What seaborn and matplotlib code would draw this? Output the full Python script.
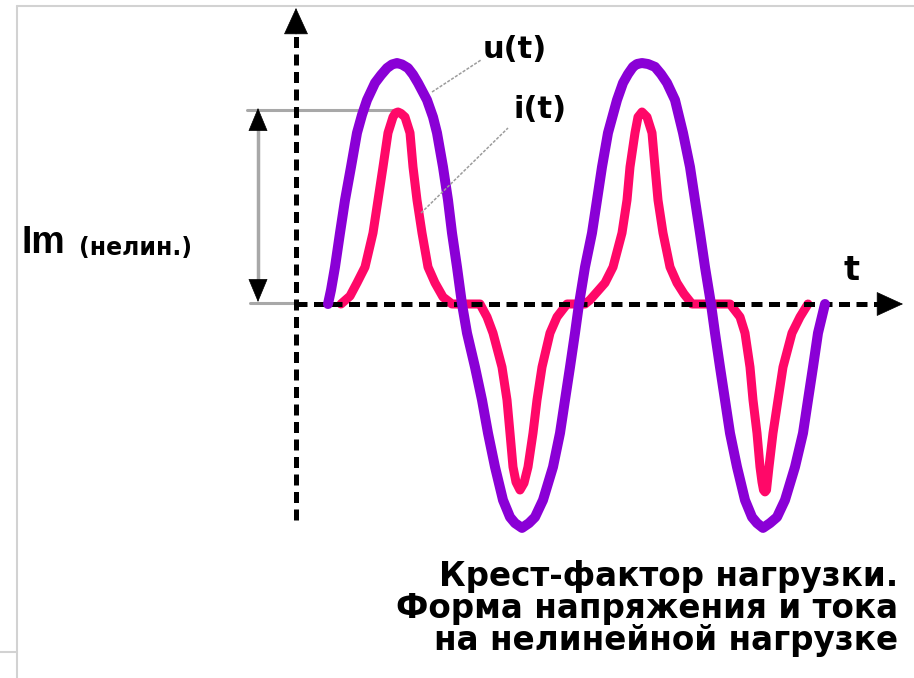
import numpy as np
import pandas as pd
import matplotlib
matplotlib.use('Agg')
import matplotlib.pyplot as plt
import seaborn as sns

sns.set_style('white')
plt.rcParams['font.family'] = ['DejaVu Sans']
plt.rcParams['text.color'] = 'black'

# напряжение u(t): время, мс / амплитуда, % от пика u
t_u = [2.56, 2.80, 3.12, 3.52, 3.92, 4.40, 4.88, 5.28, 5.68, 6.32, 6.80, 7.28, 7.68, 8.08, 8.48,
       8.96, 9.36, 9.76, 10.48, 10.96, 11.28, 11.76, 12.16, 12.48, 12.88, 13.28,
       13.68, 14.32, 14.88, 15.36, 15.92, 16.56, 17.12, 17.52, 18.08, 18.64, 19.12, 19.76, 20.56,
       21.12, 21.52, 21.92, 22.32, 22.64,
       23.12, 23.68, 24.08, 24.48, 24.96, 25.68, 26.16, 26.56, 26.96, 27.28, 27.68, 28.16, 28.72,
       29.20, 29.68, 30.32, 30.96, 31.52, 31.92, 32.32, 32.72, 33.20,
       33.52, 33.92, 34.32, 34.72, 35.28, 35.92, 36.48, 36.88, 37.36, 37.92, 38.48, 39.12, 39.92,
       40.56, 40.96, 41.36, 41.76, 42.32]
u_vals = [0, 5.8, 15.4, 29.6, 43.3, 57.1, 71.3, 78.8, 85.0, 92.1, 95.4, 98.3, 99.8, 100.4, 99.8,
          98.3, 95.6, 92.1, 85.0, 77.9, 71.3, 57.1, 43.3, 29.6, 15.4, 0,
          -12.1, -26.3, -40.0, -53.8, -67.9, -81.7, -88.8, -91.3, -93.3, -91.3, -88.8, -81.7, -67.9,
          -53.8, -40.0, -26.3, -12.1, 0,
          15.4, 29.6, 43.3, 57.1, 71.3, 85.0, 92.1, 95.8, 98.8, 100.0, 100.4, 100.0, 98.8,
          95.8, 92.1, 85.0, 71.3, 57.1, 43.3, 29.6, 15.4, 0,
          -12.1, -26.3, -40.0, -53.8, -67.9, -81.7, -88.8, -91.3, -93.3, -91.3, -88.8, -81.7, -67.9,
          -53.8, -40.0, -26.3, -12.1, 0]

# ток i(t) на нелинейной нагрузке
t_i = [3.60, 4.32, 4.88, 5.52, 6.16, 6.56, 6.96, 7.36, 7.76, 7.96, 8.16, 8.40, 8.72, 9.12, 9.36,
       9.68, 10.08, 10.56, 11.12, 11.76, 12.48, 14.72,
       15.28, 15.76, 16.48, 16.88, 17.12, 17.36, 17.60, 17.92, 18.24, 18.56, 18.96, 19.28, 19.68,
       20.32, 20.88, 21.68, 23.12,
       23.52, 24.08, 24.72, 25.36, 26.08, 26.48, 26.72, 27.12, 27.36, 27.68, 28.08, 28.48, 28.72,
       28.96, 29.36, 29.92, 30.48, 31.04, 31.68, 34.72,
       35.52, 35.92, 36.32, 36.56, 36.88, 37.12, 37.28, 37.40, 37.52, 37.64, 37.84, 38.16, 38.56,
       38.96, 39.68, 40.32, 40.96]
i_vals = [0, 3.3, 8.8, 15.4, 29.6, 43.3, 57.1, 71.3, 77.9, 79.6, 80.0, 79.4, 77.9, 71.3, 57.1,
          43.3, 29.6, 15.4, 8.8, 2.9, 0, 0,
          -5.4, -12.1, -26.3, -40.0, -53.8, -67.9, -74.2, -77.5, -74.6, -67.9, -53.8, -40.0, -26.3,
          -12.1, -5.4, 0, 0,
          1.7, 5.0, 8.8, 15.4, 29.6, 43.3, 57.1, 71.3, 77.9, 80.0, 77.9, 71.3, 57.1,
          43.3, 29.6, 15.4, 8.8, 4.2, 0, 0,
          -5.4, -12.1, -26.3, -40.0, -53.8, -67.9, -74.2, -77.5, -78.3, -77.5, -67.9, -53.8, -40.0,
          -26.3, -12.1, -5.4, 0]

caption = ['Крест-фактор нагрузки.', 'Форма напряжения и тока', 'на нелинейной нагрузке']

# раскладка: пиксели картинки -> единицы графика
W, H = 914, 678
X0, Y0 = 296, 304          # начало координат, px
PX_MS, PX_PCT = 12.5, 2.4  # px на мс, px на %

def tx(x):
    return (x - X0) / PX_MS

def vy(y):
    return (Y0 - y) / PX_PCT

fig = plt.figure(figsize=(W / 100, H / 100), dpi=100)
ax = fig.add_axes([0, 0, 1, 1])
ax.set_xlim(tx(0), tx(W))
ax.set_ylim(vy(H), vy(0))
ax.set_axis_off()

df_u = pd.DataFrame({'t': t_u, 'v': u_vals})
df_i = pd.DataFrame({'t': t_i, 'v': i_vals})
sns.lineplot(data=df_i, x='t', y='v', color='#ff0868', linewidth=6.5, estimator=None,
             sort=False, ax=ax, zorder=2, solid_capstyle='round', solid_joinstyle='round')
sns.lineplot(data=df_u, x='t', y='v', color='#8a00d6', linewidth=7.2, estimator=None,
             sort=False, ax=ax, zorder=4, solid_capstyle='round', solid_joinstyle='round')

# оси пунктиром со стрелками
dash = (0, (2.2, 1.3))
ax.plot([0, 0], [vy(520), vy(32)], color='black', lw=3.6, linestyle=dash, zorder=3)
ax.plot([0, tx(878)], [0, 0], color='black', lw=3.6, linestyle=dash, zorder=3)
head = dict(arrowstyle='-|>,head_length=1.2,head_width=0.55', color='black', lw=0.5,
            mutation_scale=15, shrinkA=0, shrinkB=0)
ax.annotate('', xy=(0, vy(8)), xytext=(0, vy(34)), arrowprops=head, zorder=5)
ax.annotate('', xy=(tx(903), 0), xytext=(tx(877), 0), arrowprops=head, zorder=5)

# размер Im
gray = '#a8a8a8'
ax.plot([tx(247), tx(392)], [vy(110), vy(110)], color=gray, lw=2.2, zorder=1)
ax.plot([tx(250), 0], [vy(303), vy(303)], color=gray, lw=2.2, zorder=1)
ax.plot([tx(258), tx(258)], [vy(125), vy(288)], color=gray, lw=2.5, zorder=1)
small = dict(arrowstyle='-|>,head_length=1.2,head_width=0.5', color='black', lw=0.5,
             mutation_scale=13, shrinkA=0, shrinkB=0)
ax.annotate('', xy=(tx(258), vy(108)), xytext=(tx(258), vy(130)), arrowprops=small)
ax.annotate('', xy=(tx(258), vy(302)), xytext=(tx(258), vy(280)), arrowprops=small)

# выноски
ax.plot([tx(432), tx(481)], [vy(92), vy(60)], color='#9c9c9c', lw=1.1, linestyle=(0, (2, 1)), zorder=5)
ax.plot([tx(421), tx(508)], [vy(213), vy(128)], color='#9c9c9c', lw=1.1, linestyle=(0, (2, 1)), zorder=5)

# подписи
ax.text(tx(515), vy(49), 'u(t)', fontsize=22, fontweight='bold', ha='center', va='center')
ax.text(tx(540), vy(110), 'i(t)', fontsize=22, fontweight='bold', ha='center', va='center')
ax.text(tx(852), vy(270), 't', fontsize=24, fontweight='bold', ha='center', va='center')
ax.text(tx(21), vy(253), 'Im', fontsize=27, fontweight='bold', family=['Liberation Sans'],
        ha='left', va='baseline')
ax.text(tx(79), vy(255), '(нелин.)', fontsize=17, fontweight='bold', ha='left', va='baseline')
for k, line in enumerate(caption):
    ax.text(tx(898), vy(586 + 32 * k), line, fontsize=23.5, fontweight='heavy',
            ha='right', va='baseline')

# светло-серая рамка
fc = '#d2d2d2'
ax.plot([tx(17), tx(W)], [vy(6), vy(6)], color=fc, lw=1.5, zorder=0)
ax.plot([tx(17), tx(17)], [vy(6), vy(H)], color=fc, lw=1.5, zorder=0)
ax.plot([tx(0), tx(17)], [vy(652), vy(652)], color=fc, lw=1.5, zorder=0)

fig.savefig('out.png', dpi=100)
